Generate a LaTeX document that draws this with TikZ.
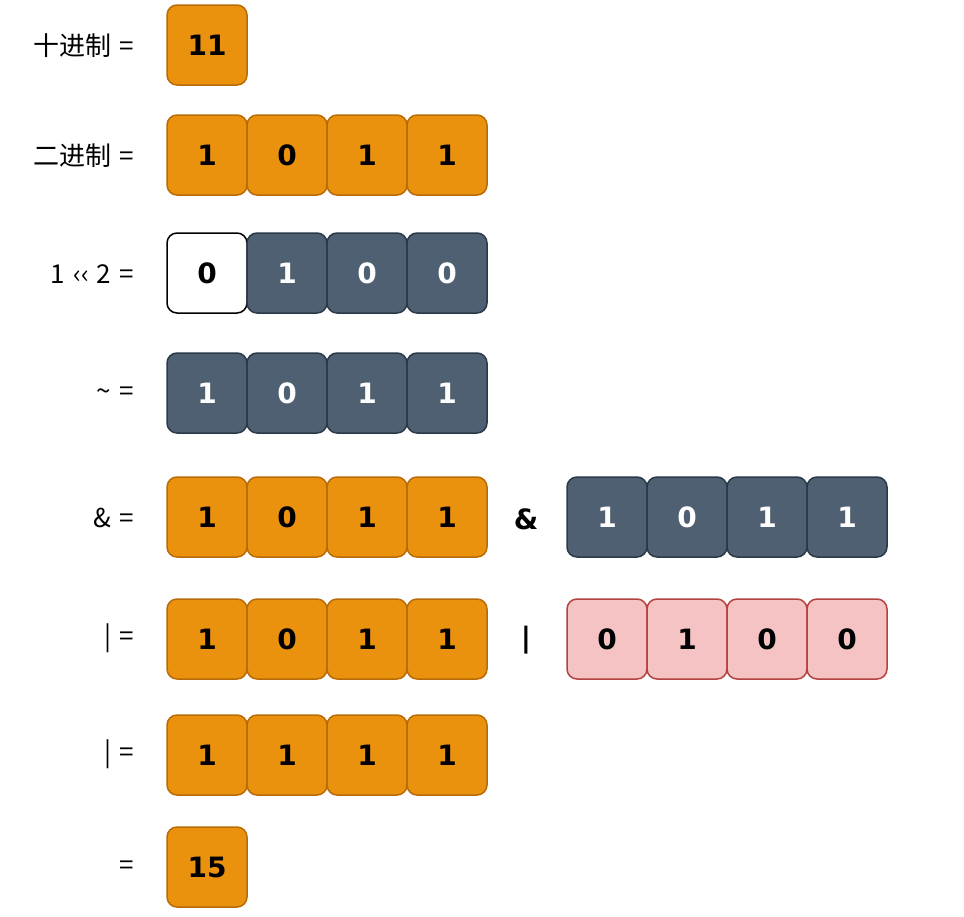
\documentclass[tikz,border=0pt]{standalone}
\usepackage{fontspec}
\setmainfont{Noto Sans CJK SC}
\newfontfamily\digitfont{DejaVu Sans}
\definecolor{orfill}{HTML}{EA920E}
\definecolor{ordraw}{HTML}{B86B08}
\definecolor{gyfill}{HTML}{4F6072}
\definecolor{gydraw}{HTML}{2B3A4A}
\definecolor{pkfill}{HTML}{F5C3C3}
\definecolor{pkdraw}{HTML}{B4433F}
\newcommand{\gapsp}{\hspace{8pt}}
\begin{document}
\begin{tikzpicture}[x=1pt,y=-1pt,
  bit/.style={minimum width=80pt,minimum height=80pt,rounded corners=10pt,line width=1.5pt,inner sep=0pt,
    font=\digitfont\bfseries\fontsize{28}{30}\selectfont},
  orbit/.style={bit,fill=orfill,draw=ordraw,text=black},
  gybit/.style={bit,fill=gyfill,draw=gydraw,text=white},
  pkbit/.style={bit,fill=pkfill,draw=pkdraw,text=black},
  whbit/.style={bit,fill=white,draw=black,text=black},
  lbl/.style={anchor=east,font=\fontsize{26}{28}\selectfont,inner sep=0pt},
  op/.style={font=\digitfont\bfseries\fontsize{28}{30}\selectfont,inner sep=0pt}]
\useasboundingbox (0,0) rectangle (964,916);
% row 1
\node[lbl] (l1) at (134,46) {十进制\gapsp=};
\node[orbit] (r1a) at (207,45) {11};
% row 2
\node[lbl] (l2) at (134,156) {二进制\gapsp=};
\node[orbit] (r2a) at (207,155) {1};
\node[orbit] (r2b) at (287,155) {0};
\node[orbit] (r2c) at (367,155) {1};
\node[orbit] (r2d) at (447,155) {1};
% row 3
\node[lbl] (l3) at (134,274) {1\gapsp‹‹\gapsp2\gapsp=};
\node[whbit] (r3a) at (207,273) {0};
\node[gybit] (r3b) at (287,273) {1};
\node[gybit] (r3c) at (367,273) {0};
\node[gybit] (r3d) at (447,273) {0};
% row 4
\node[lbl] (l4) at (134,394) {\textasciitilde\gapsp=};
\node[gybit] (r4a) at (207,393) {1};
\node[gybit] (r4b) at (287,393) {0};
\node[gybit] (r4c) at (367,393) {1};
\node[gybit] (r4d) at (447,393) {1};
% row 5
\node[lbl] (l5) at (134,518) {\&\gapsp=};
\node[orbit] (r5a) at (207,517) {1};
\node[orbit] (r5b) at (287,517) {0};
\node[orbit] (r5c) at (367,517) {1};
\node[orbit] (r5d) at (447,517) {1};
\node[op] (o5) at (526,519) {\&};
\node[gybit] (r5e) at (607,517) {1};
\node[gybit] (r5f) at (687,517) {0};
\node[gybit] (r5g) at (767,517) {1};
\node[gybit] (r5h) at (847,517) {1};
% row 6
\node[lbl] (l6) at (134,638) {|\gapsp=};
\node[orbit] (r6a) at (207,639) {1};
\node[orbit] (r6b) at (287,639) {0};
\node[orbit] (r6c) at (367,639) {1};
\node[orbit] (r6d) at (447,639) {1};
\node[op] (o6) at (526,640) {|};
\node[pkbit] (r6e) at (607,639) {0};
\node[pkbit] (r6f) at (687,639) {1};
\node[pkbit] (r6g) at (767,639) {0};
\node[pkbit] (r6h) at (847,639) {0};
% row 7
\node[lbl] (l7) at (134,754) {|\gapsp=};
\node[orbit] (r7a) at (207,755) {1};
\node[orbit] (r7b) at (287,755) {1};
\node[orbit] (r7c) at (367,755) {1};
\node[orbit] (r7d) at (447,755) {1};
% row 8
\node[lbl] (l8) at (134,868) {=};
\node[orbit] (r8a) at (207,867) {15};
\end{tikzpicture}
\end{document}
